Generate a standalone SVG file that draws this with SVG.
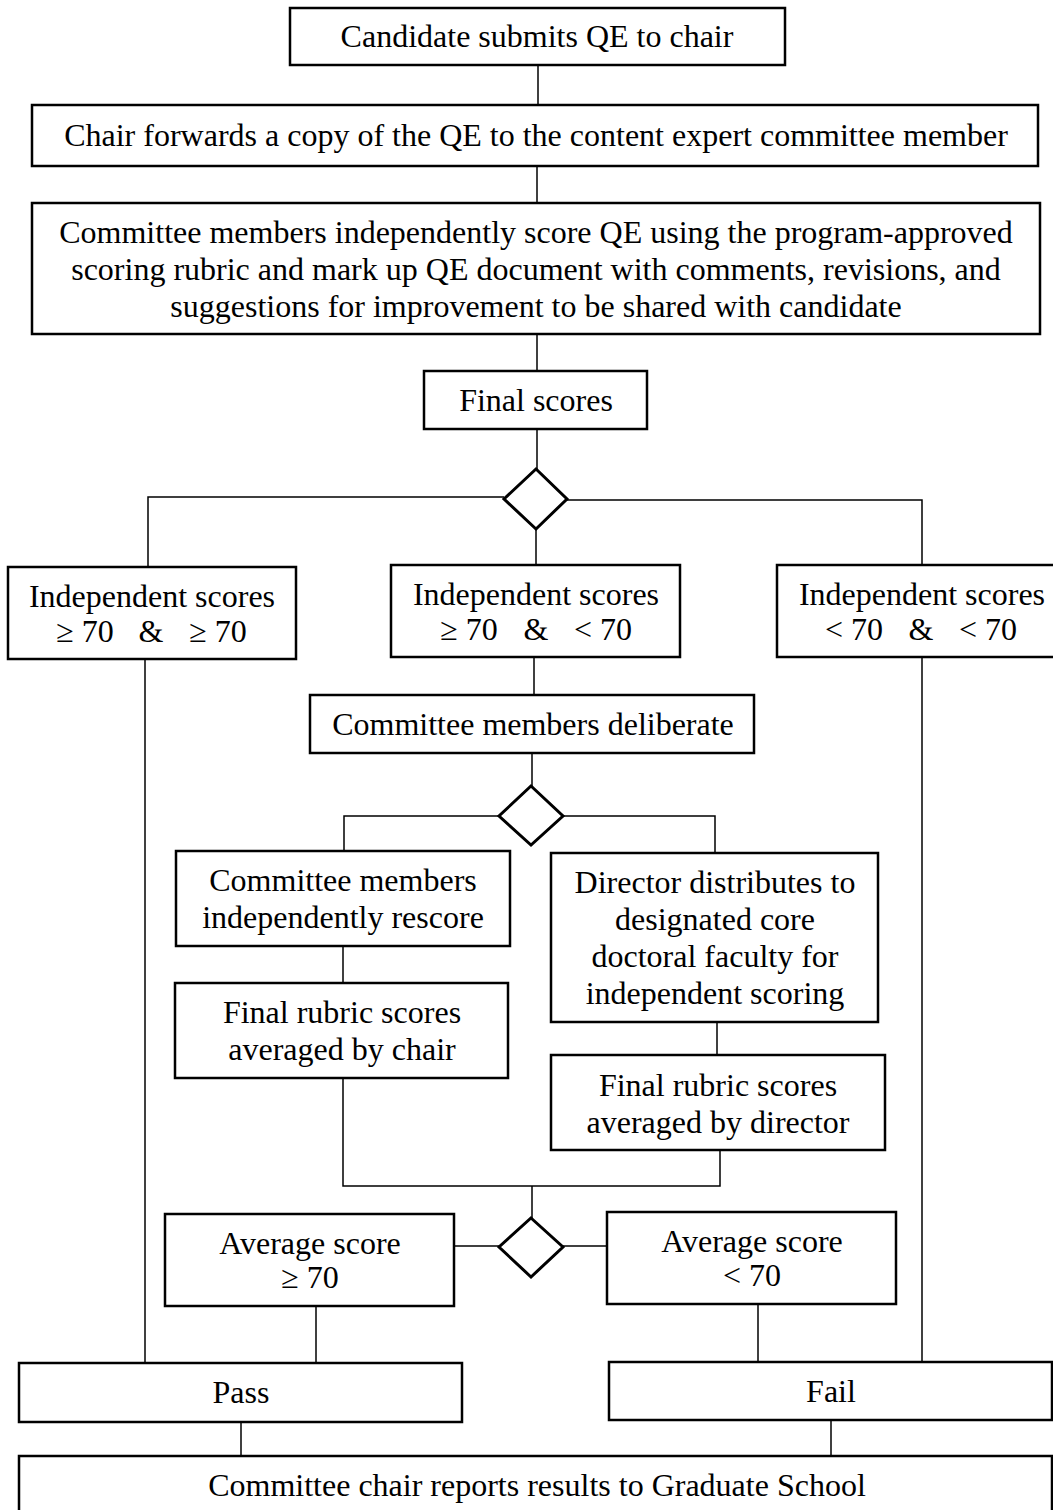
<svg xmlns="http://www.w3.org/2000/svg" width="1053" height="1510" viewBox="0 0 1053 1510">
<style>
.box{fill:#fff;stroke:#000;stroke-width:2.5}
.dia{fill:#fff;stroke:#000;stroke-width:3}
.con{fill:none;stroke:#000;stroke-width:1.5}
text{font-family:"Liberation Serif","Times New Roman",serif;font-size:32px;fill:#000;text-anchor:middle}
</style>
<rect width="1053" height="1510" fill="#fff"/>
<g id="connectors">
<path class="con" d="M538,65V105"/>
<path class="con" d="M537,166V203"/>
<path class="con" d="M537,334V371"/>
<path class="con" d="M537,429V469"/>
<path class="con" d="M504,497H148V567"/>
<path class="con" d="M567,500H922V565"/>
<path class="con" d="M536,529V565"/>
<path class="con" d="M145,659V1363"/>
<path class="con" d="M922,657V1362"/>
<path class="con" d="M534,657V695"/>
<path class="con" d="M532,753V786"/>
<path class="con" d="M499,816H344V851"/>
<path class="con" d="M563,816H715V853"/>
<path class="con" d="M343,946V983"/>
<path class="con" d="M717,1022V1055"/>
<path class="con" d="M343,1078V1186H720V1150"/>
<path class="con" d="M532,1186V1218"/>
<path class="con" d="M455,1246H499"/>
<path class="con" d="M563,1246H607"/>
<path class="con" d="M316,1306V1363"/>
<path class="con" d="M758,1304V1362"/>
<path class="con" d="M241,1422V1456"/>
<path class="con" d="M831,1420V1456"/>
</g>
<g id="n1"><rect class="box" x="290" y="8" width="495" height="57"/><text x="537" y="47">Candidate submits QE to chair</text></g>
<g id="n2"><rect class="box" x="32" y="105" width="1006" height="61"/><text x="536" y="146">Chair forwards a copy of the QE to the content expert committee member</text></g>
<g id="n3"><rect class="box" x="32" y="203" width="1008" height="131"/>
<text x="536" y="243">Committee members independently score QE using the program-approved</text>
<text x="536" y="280">scoring rubric and mark up QE document with comments, revisions, and</text>
<text x="536" y="317">suggestions for improvement to be shared with candidate</text></g>
<g id="n4"><rect class="box" x="424" y="371" width="223" height="58"/><text x="536" y="411">Final scores</text></g>
<g id="d1"><polygon class="dia" points="536,469 567,499 536,529 504,499"/></g>
<g id="n5"><rect class="box" x="8" y="567" width="288" height="92"/>
<text x="152" y="607">Independent scores</text>
<text y="642"><tspan x="85">≥ 70</tspan><tspan x="151">&amp;</tspan><tspan x="218">≥ 70</tspan></text></g>
<g id="n6"><rect class="box" x="391" y="565" width="289" height="92"/>
<text x="536" y="605">Independent scores</text>
<text y="640"><tspan x="469">≥ 70</tspan><tspan x="536">&amp;</tspan><tspan x="603">&lt; 70</tspan></text></g>
<g id="n7"><rect class="box" x="777" y="565" width="290" height="92"/>
<text x="922" y="605">Independent scores</text>
<text y="640"><tspan x="854">&lt; 70</tspan><tspan x="921">&amp;</tspan><tspan x="988">&lt; 70</tspan></text></g>
<g id="n8"><rect class="box" x="310" y="695" width="444" height="58"/><text x="533" y="735">Committee members deliberate</text></g>
<g id="d2"><polygon class="dia" points="531,786 563,816 531,845 499,816"/></g>
<g id="n9"><rect class="box" x="176" y="851" width="334" height="95"/>
<text x="343" y="891">Committee members</text><text x="343" y="928">independently rescore</text></g>
<g id="n10"><rect class="box" x="175" y="983" width="333" height="95"/>
<text x="342" y="1023">Final rubric scores</text><text x="342" y="1060">averaged by chair</text></g>
<g id="n11"><rect class="box" x="551" y="853" width="327" height="169"/>
<text x="715" y="893">Director distributes to</text><text x="715" y="930">designated core</text>
<text x="715" y="967">doctoral faculty for</text><text x="715" y="1004">independent scoring</text></g>
<g id="n12"><rect class="box" x="551" y="1055" width="334" height="95"/>
<text x="718" y="1096">Final rubric scores</text><text x="718" y="1133">averaged by director</text></g>
<g id="d3"><polygon class="dia" points="531,1218 563,1247 531,1277 499,1247"/></g>
<g id="n13"><rect class="box" x="165" y="1214" width="289" height="92"/>
<text x="310" y="1254">Average score</text><text x="310" y="1288">≥ 70</text></g>
<g id="n14"><rect class="box" x="607" y="1212" width="289" height="92"/>
<text x="752" y="1252">Average score</text><text x="752" y="1286">&lt; 70</text></g>
<g id="n15"><rect class="box" x="19" y="1363" width="443" height="59"/><text x="241" y="1403">Pass</text></g>
<g id="n16"><rect class="box" x="609" y="1362" width="443" height="58"/><text x="831" y="1402">Fail</text></g>
<g id="n17"><rect class="box" x="19" y="1456" width="1033" height="70"/><text x="537" y="1496">Committee chair reports results to Graduate School</text></g>
</svg>
